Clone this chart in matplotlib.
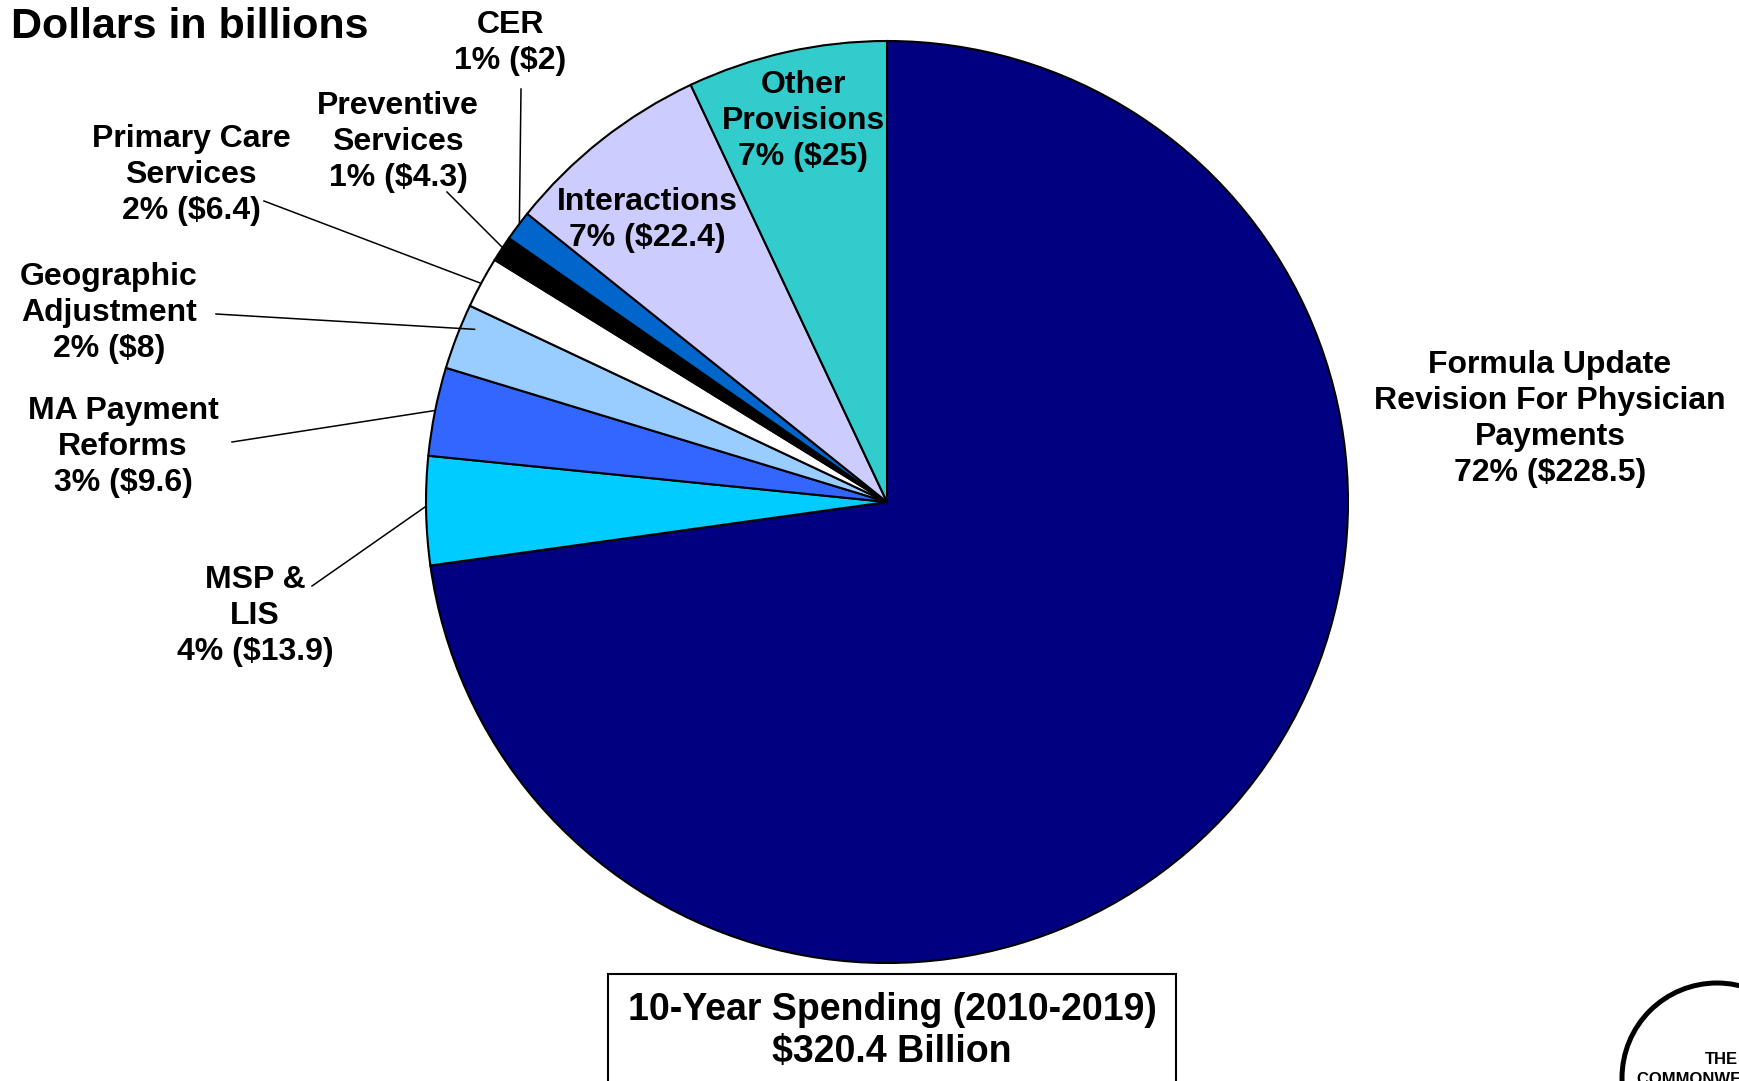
import matplotlib
matplotlib.use("Agg")
import matplotlib.pyplot as plt
from matplotlib.patches import Circle, Rectangle
import numpy as np

plt.rcParams['font.family'] = ['Liberation Sans', 'DejaVu Sans']
plt.rcParams['font.weight'] = 'bold'

# data
labels = ["Formula Update\nRevision For Physician\nPayments", "MSP &\nLIS",
          "MA Payment\nReforms", "Geographic\nAdjustment", "Primary Care\nServices",
          "Preventive\nServices", "CER", "Interactions", "Other\nProvisions"]
pct_text = ["72%", "4%", "3%", "2%", "2%", "1%", "1%", "7%", "7%"]
dollars = [228.5, 13.9, 9.6, 8, 6.4, 4.3, 2, 22.4, 25]
# wedge sizes as drawn in the original picture (percent of circle)
shares = [72.8, 3.8, 3.1, 2.3, 1.8, 0.9, 1.05, 7.25, 7.0]
colors = ["#000080", "#00CCFF", "#3366FF", "#99CCFF", "#FFFFFF",
          "#000000", "#0066CC", "#CCCCFF", "#33CCCC"]
period = "10-Year Spending (2010-2019)"
total_text = "$320.4 Billion"

W, H = 1739, 1081

def Y(y):
    # image y (top down) -> axes y (bottom up)
    return H - y

# label centres in image pixels
label_pos = [(1550, 419), (255, 616), (123, 447), (109, 313), (191, 175),
             (398, 142), (510, 43), (647, 220), (803, 121)]
# leader lines: start point at text, position along wedge (0..1), radius factor
leaders = {1: ((312, 586), 0.46, 1.0),
           2: ((232, 442), 0.49, 1.0),
           3: ((216, 314), 0.30, 0.97),
           4: ((264, 201), 0.52, 1.0),
           5: ((447, 192), 0.44, 1.0),
           6: ((521, 89), 0.42, 1.0)}

fig = plt.figure(figsize=(W / 100, H / 100), dpi=100)
ax = fig.add_axes([0, 0, 1, 1])

cx, cy, r = 887, Y(502), 461
wedges, _ = ax.pie(shares, colors=colors, startangle=90, counterclock=False,
                   center=(cx, cy), radius=r,
                   wedgeprops=dict(edgecolor='black', linewidth=1.5))
ax.set_xlim(0, W)
ax.set_ylim(0, H)
ax.set_aspect('equal')
ax.axis('off')

for i, lab in enumerate(labels):
    txt = f"{lab}\n{pct_text[i]} (${dollars[i]:g})"
    x, y = label_pos[i]
    ax.text(x, Y(y), txt, ha='center', va='center', multialignment='center',
            fontsize=23, fontweight='bold', linespacing=1.25, color='black')

for i, (start, frac, rf) in leaders.items():
    w = wedges[i]
    ang = np.radians(w.theta1 + frac * (w.theta2 - w.theta1))
    ex = cx + r * rf * np.cos(ang)
    ey = cy + r * rf * np.sin(ang)
    ax.plot([start[0], ex], [Y(start[1]), ey], color='black', lw=1.1)

ax.text(11, Y(27), "Dollars in billions", ha='left', va='center',
        fontsize=31, fontweight='bold')

# total box at the bottom
ax.add_patch(Rectangle((608, -10), 1176 - 608, Y(974) + 10, facecolor='white',
                       edgecolor='black', lw=1.5))
ax.text(892, Y(1010), period, ha='center', va='center', fontsize=27, fontweight='bold')
ax.text(892, Y(1052), total_text, ha='center', va='center', fontsize=27, fontweight='bold')

# logo corner
ax.add_patch(Circle((1717, Y(1078)), 95, fill=False, edgecolor='black', lw=3.6))
ax.text(1738, Y(1060), "THE", ha='right', va='center', fontsize=12, fontweight='bold')
ax.text(1637, Y(1072), "COMMONWEALTH FUND", ha='left', va='top', fontsize=12,
        fontweight='bold')

fig.savefig("out.png", dpi=100)
